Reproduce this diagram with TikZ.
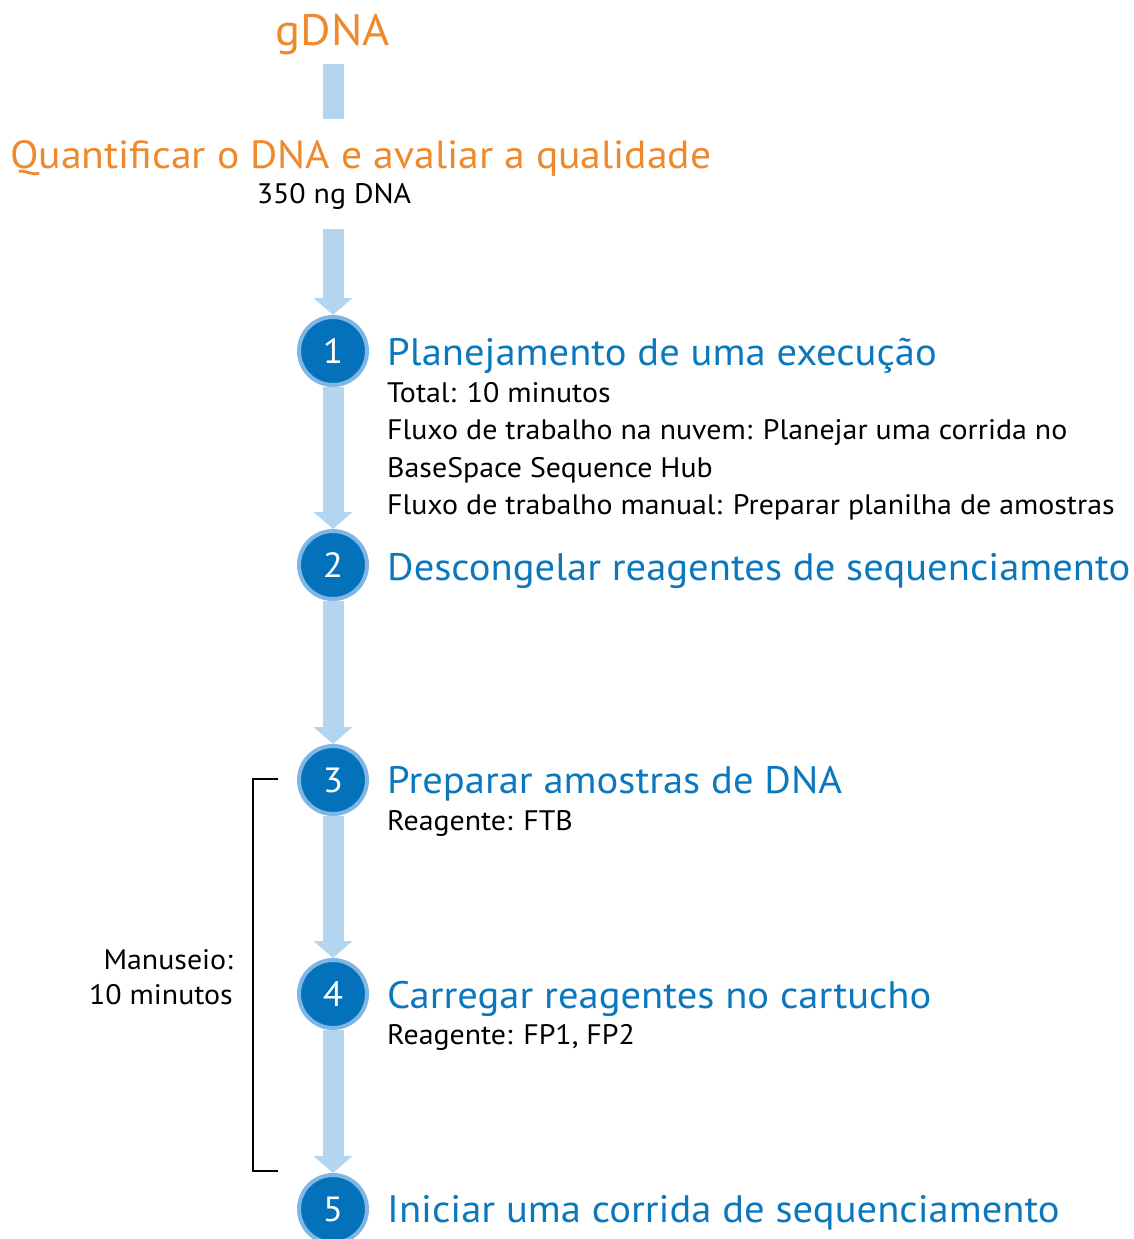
\documentclass[tikz,border=0pt]{standalone}
\usepackage{fontspec}
\setmainfont{PT Sans}[FakeStretch=1.06]
\usetikzlibrary{arrows.meta,backgrounds}
\definecolor{orng}{HTML}{EE8A2E}
\definecolor{ttlblue}{HTML}{0B78BE}
\definecolor{dotblue}{HTML}{0472BA}
\definecolor{ringblue}{HTML}{7FB6E6}
\definecolor{shaftblue}{HTML}{B4D5F0}
\tikzset{
  stepdot/.style={circle, fill=dotblue, draw=ringblue, line width=4bp, minimum size=68bp, inner sep=0pt, text=white, font=\fontsize{35bp}{35bp}\selectfont},
  flowarrow/.style={draw=shaftblue, line width=21bp, -{Triangle[width=38bp,length=17bp]}},
  flowbar/.style={draw=shaftblue, line width=21bp},
  steptitle/.style={anchor=base west, text=ttlblue, inner sep=0pt, font=\fontsize{38.3bp}{38bp}\selectfont},
  bodytext/.style={anchor=base west, text=black, inner sep=0pt, font=\fontsize{28.2bp}{28bp}\selectfont},
  orangetext/.style={text=orng, inner sep=0pt, font=\fontsize{39.3bp}{39bp}\selectfont},
}
\begin{document}
\begin{tikzpicture}[x=1bp,y=-1bp]
\useasboundingbox (0,0) rectangle (1134,1239);
% top
\node[orangetext, anchor=base, font=\fontsize{44bp}{44bp}\selectfont] (gdna) at (333,45) {gDNA};
\coordinate (bartop) at (333,64);
\coordinate (barbot) at (333,119);
\node[orangetext, anchor=base west] (quant) at (10,168) {Quantificar o DNA e avaliar a qualidade};
\node[bodytext, anchor=base] (ng) at (334,203) {350 ng DNA};
\coordinate (shafttop) at (333,229);
% step circles
\node[stepdot] (c1) at (333,351) {1};
\node[stepdot] (c2) at (333,565) {2};
\node[stepdot] (c3) at (333,780) {3};
\node[stepdot] (c4) at (333,994) {4};
\node[stepdot] (c5) at (333,1209) {5};
% arrows behind
\begin{scope}[on background layer]
\draw[flowbar] (bartop) -- (barbot);
\draw[flowarrow] (shafttop) -- (c1);
\draw[flowarrow] (c1) -- (c2);
\draw[flowarrow] (c2) -- (c3);
\draw[flowarrow] (c3) -- (c4);
\draw[flowarrow] (c4) -- (c5);
\end{scope}
% step texts
\node[steptitle] (t1) at (387,365) {Planejamento de uma execução};
\node[bodytext] (b1a) at (387,402) {Total: 10 minutos};
\node[bodytext] (b1b) at (387,439) {Fluxo de trabalho na nuvem: Planejar uma corrida no};
\node[bodytext] (b1c) at (387,477) {BaseSpace Sequence Hub};
\node[bodytext] (b1d) at (387,514) {Fluxo de trabalho manual: Preparar planilha de amostras};
\node[steptitle] (t2) at (387,580) {Descongelar reagentes de sequenciamento};
\node[steptitle] (t3) at (387,793) {Preparar amostras de DNA};
\node[bodytext] (b3) at (387,830) {Reagente: FTB};
\node[steptitle] (t4) at (387,1008) {Carregar reagentes no cartucho};
\node[bodytext] (b4) at (387,1044) {Reagente: FP1, FP2};
\node[steptitle] (t5) at (387,1222) {Iniciar uma corrida de sequenciamento};
% bracket
\coordinate (brtop) at (278,779);
\coordinate (brbot) at (278,1171);
\draw[line width=1.5bp] (brtop) -- (253,779) -- (253,1171) -- (brbot);
\node[bodytext, anchor=base east] (man1) at (233,969) {Manuseio:};
\node[bodytext, anchor=base east] (man2) at (233,1004) {10 minutos};
\end{tikzpicture}
\end{document}
